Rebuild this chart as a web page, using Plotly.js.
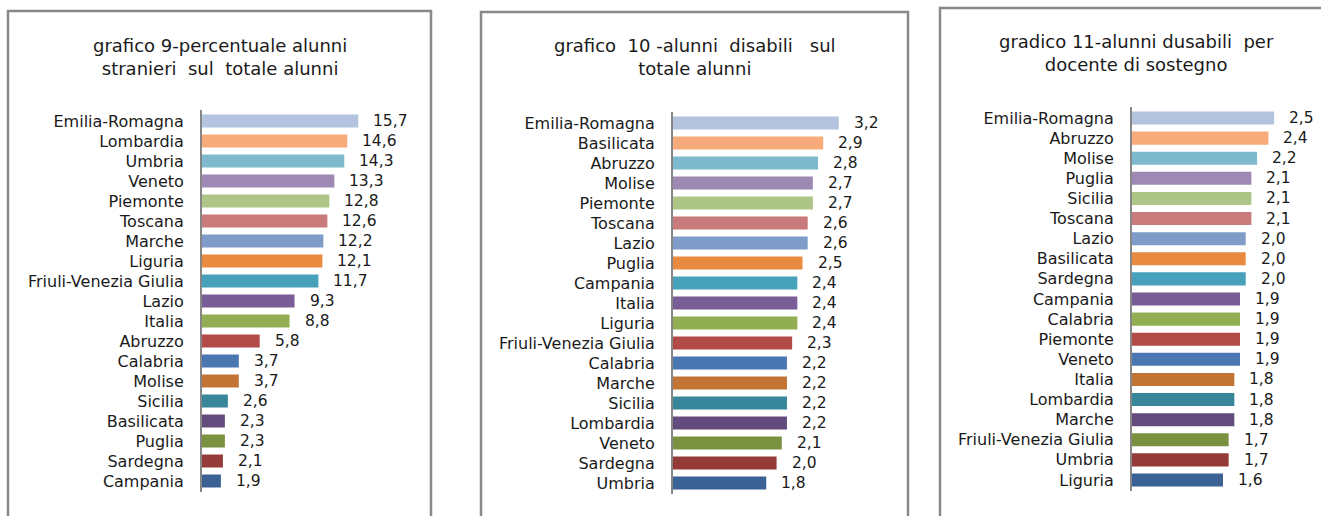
<!DOCTYPE html>
<html>
<head>
<meta charset="utf-8">
<script src="https://cdn.plot.ly/plotly-3.0.1.min.js"></script>
<style>
  html, body { margin: 0; padding: 0; background: #fff; }
  #chart { width: 1321px; height: 516px; }
</style>
</head>
<body>
<div id="chart"></div>
<script>
// grafico 9 - percentuale alunni stranieri
var regioni9 = ['Emilia-Romagna', 'Lombardia', 'Umbria', 'Veneto', 'Piemonte', 'Toscana', 'Marche',
    'Liguria', 'Friuli-Venezia Giulia', 'Lazio', 'Italia', 'Abruzzo', 'Calabria', 'Molise', 'Sicilia',
    'Basilicata', 'Puglia', 'Sardegna', 'Campania'];
var valori9 = [15.7, 14.6, 14.3, 13.3, 12.8, 12.6, 12.2, 12.1, 11.7, 9.3, 8.8, 5.8, 3.7, 3.7, 2.6, 2.3, 2.3, 2.1, 1.9];

// grafico 10 - alunni disabili sul totale
var regioni10 = ['Emilia-Romagna', 'Basilicata', 'Abruzzo', 'Molise', 'Piemonte', 'Toscana', 'Lazio',
    'Puglia', 'Campania', 'Italia', 'Liguria', 'Friuli-Venezia Giulia', 'Calabria', 'Marche', 'Sicilia',
    'Lombardia', 'Veneto', 'Sardegna', 'Umbria'];
var valori10 = [3.2, 2.9, 2.8, 2.7, 2.7, 2.6, 2.6, 2.5, 2.4, 2.4, 2.4, 2.3, 2.2, 2.2, 2.2, 2.2, 2.1, 2.0, 1.8];

// grafico 11 - alunni disabili per docente di sostegno
var regioni11 = ['Emilia-Romagna', 'Abruzzo', 'Molise', 'Puglia', 'Sicilia', 'Toscana', 'Lazio',
    'Basilicata', 'Sardegna', 'Campania', 'Calabria', 'Piemonte', 'Veneto', 'Italia', 'Lombardia',
    'Marche', 'Friuli-Venezia Giulia', 'Umbria', 'Liguria'];
var valori11 = [2.5, 2.4, 2.2, 2.1, 2.1, 2.1, 2.0, 2.0, 2.0, 1.9, 1.9, 1.9, 1.9, 1.8, 1.8, 1.8, 1.7, 1.7, 1.6];

var titoli = ['grafico 9-percentuale alunni<br>stranieri  sul  totale alunni',
    'grafico  10 -alunni  disabili   sul<br>totale alunni',
    'gradico 11-alunni dusabili  per<br>docente di sostegno'];

var colori = ['#B4C3DE', '#F7AB7A', '#7EB9CE', '#9D89B3', '#ADC688', '#C97B7B', '#7F9BC7', '#E88A40',
    '#47A1BA', '#785D96', '#92AE52', '#B24B48', '#4A77B1', '#C27434', '#37869A', '#634C7D',
    '#7A9140', '#943B39', '#3B6295'];

var W = 1321, H = 516;
function px(x) { return x / W; }
function py(y) { return 1 - y / H; }
function virgola(v) { return v.toFixed(1).replace('.', ','); }

var font = 'DejaVu Sans, Verdana, sans-serif';

// pixel geometry of each panel: axis x, domain right, domain top/bottom, box, title position
var pannelli = [
    {cat: regioni9, val: valori9, ax: 202, right: 420, top: 110, bottom: 492, box: [8, 11, 431], ty: 57, tx: 220},
    {cat: regioni10, val: valori10, ax: 673, right: 900, top: 112, bottom: 494, box: [481, 12, 908], ty: 57, tx: 695},
    {cat: regioni11, val: valori11, ax: 1132, right: 1318, top: 107, bottom: 491, box: [940, 8, 1340], ty: 53, tx: 1136}
];
var pxPerUnit = [9.95, 51.8, 56.85];

var data = [];
var layout = {
    width: W, height: H,
    margin: {l: 0, r: 0, t: 0, b: 0},
    paper_bgcolor: '#fff', plot_bgcolor: '#fff',
    showlegend: false,
    bargap: 0.35,
    font: {family: font, size: 15, color: '#1a1a1a'},
    annotations: [],
    shapes: []
};

pannelli.forEach(function (p, i) {
    var n = i === 0 ? '' : String(i + 1);
    data.push({
        type: 'bar', orientation: 'h',
        x: p.val, y: p.cat,
        xaxis: 'x' + n, yaxis: 'y' + n,
        marker: {color: colori},
        hoverinfo: 'skip'
    });
    layout['xaxis' + n] = {
        domain: [px(p.ax), px(p.right)],
        range: [0, (p.right - p.ax) / pxPerUnit[i]],
        visible: false, fixedrange: true,
        anchor: 'y' + n
    };
    layout['yaxis' + n] = {
        domain: [py(p.bottom), py(p.top)],
        autorange: 'reversed', type: 'category',
        showline: true, linecolor: '#868686', linewidth: 2,
        ticks: '', ticklabelstandoff: 13,
        showgrid: false, zeroline: false,
        tickfont: {family: font, size: 16, color: '#1a1a1a'},
        anchor: 'x' + n
    };
    p.val.forEach(function (v, k) {
        layout.annotations.push({
            xref: 'x' + n, yref: 'y' + n,
            x: v, y: p.cat[k],
            text: virgola(v), showarrow: false,
            xanchor: 'left', yanchor: 'middle', xshift: 13,
            font: {family: font, size: 15.5, color: '#1a1a1a'}
        });
    });
    layout.annotations.push({
        xref: 'paper', yref: 'paper',
        x: px(p.tx), y: py(p.ty),
        text: titoli[i], showarrow: false,
        xanchor: 'center', yanchor: 'middle',
        font: {family: font, size: 18, color: '#1a1a1a'}
    });
    layout.shapes.push({
        type: 'rect', xref: 'paper', yref: 'paper',
        x0: px(p.box[0]), x1: px(p.box[2]),
        y0: -0.1, y1: py(p.box[1]),
        line: {color: '#898989', width: 2.5},
        fillcolor: 'rgba(0,0,0,0)'
    });
});

Plotly.newPlot('chart', data, layout, {displayModeBar: false, staticPlot: true});
</script>
</body>
</html>
